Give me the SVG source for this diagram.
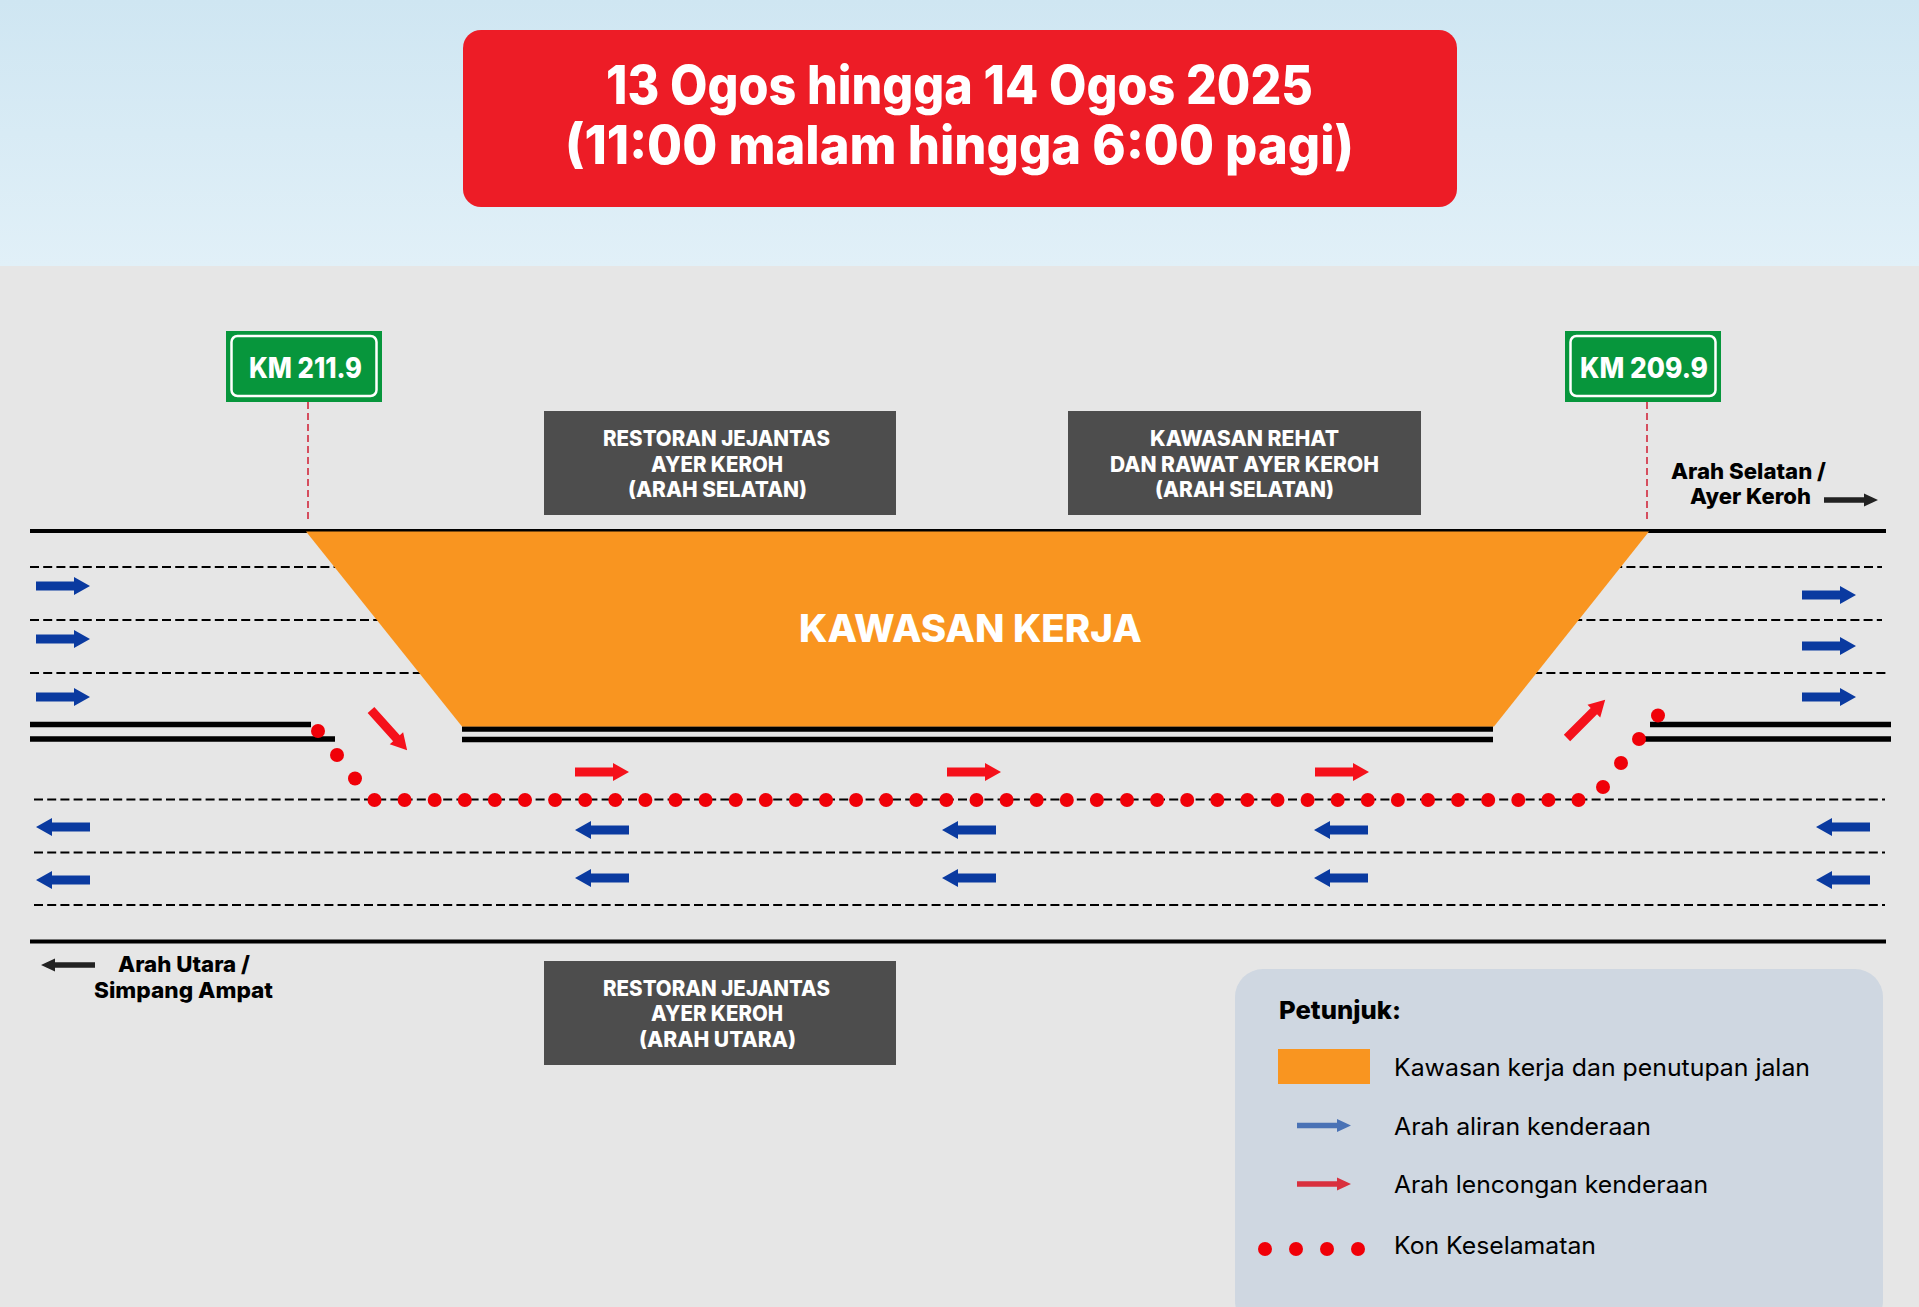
<svg xmlns="http://www.w3.org/2000/svg" xmlns:xlink="http://www.w3.org/1999/xlink" width="1919" height="1307" viewBox="0 0 1919 1307">
<defs>
<linearGradient id="sky" x1="0" y1="0" x2="0" y2="1"><stop offset="0" stop-color="#cfe6f2"/><stop offset="1" stop-color="#e1f0f8"/></linearGradient>
<path id="arr" d="M0-4.500H38V-9L54 0 38 9V4.500H0Z"/>
<path id="thin" d="M0-2.700H40V-6.500L54 0 40 6.500V2.700H0Z"/>
</defs>
<style>
text{font-family:Inter,"Liberation Sans",sans-serif;font-weight:800}
.w{fill:#fff}
.k{fill:#000}
.box{fill:#4d4d4d}
.solid{stroke:#000;stroke-width:4;fill:none}
.thick{stroke:#000;stroke-width:5.500;fill:none}
.dash{stroke:#000;stroke-width:2;stroke-dasharray:9 4.200;fill:none}
.ref{stroke:#d1293d;stroke-width:1.600;stroke-dasharray:7 4;fill:none}
.blue{fill:#0a3aa0}
.red{fill:#f5111b}
.cone{fill:#f00008}
.boxt{font-size:21px}
.lg{font-weight:400;font-size:24px;fill:#000}
</style>
<rect width="1919" height="1307" fill="#e6e6e6"/>
<rect width="1919" height="266" fill="url(#sky)"/>
<g id="title">
<rect x="463" y="30" width="994" height="177" rx="18" fill="#ed1c26"/>
<text class="w" x="606" y="104" font-size="53" textLength="707" lengthAdjust="spacingAndGlyphs">13 Ogos hingga 14 Ogos 2025</text>
<text class="w" x="565" y="164" font-size="53" textLength="789" lengthAdjust="spacingAndGlyphs">(11:00 malam hingga 6:00 pagi)</text>
</g>
<g id="roads">
<path class="dash" d="M30 567H350M30 620H400M30 673H430M1600 567H1882M1560 620H1882M1520 673H1888M34 799.500H1885M34 852.500H1885M34 905H1885"/>
<path class="solid" d="M30 531H1886M30 941.500H1886"/>
<path class="thick" d="M30 724.500H311M30 739H335M462 729H1493M462 739.500H1493M1650 724.500H1891M1643 739H1891"/>
</g>
<g id="work-zone">
<path d="M306 531.500H1649L1494 726.500H462Z" fill="#f99520"/>
<text class="w" x="799" y="642" font-size="38" textLength="343" lengthAdjust="spacingAndGlyphs">KAWASAN KERJA</text>
</g>
<g id="connectors">
<path class="ref" d="M308 402V521M1647 402V521"/>
</g>
<g id="km-211-9">
<rect x="226" y="331" width="156" height="71" fill="#07963c"/>
<rect x="231.500" y="336" width="145" height="60" rx="6" fill="none" stroke="#fff" stroke-width="2.500"/>
<text class="w" x="249" y="378" font-size="28" textLength="113" lengthAdjust="spacingAndGlyphs">KM 211.9</text>
</g>
<g id="km-209-9">
<rect x="1565" y="331" width="156" height="71" fill="#07963c"/>
<rect x="1570.500" y="336" width="145" height="60" rx="6" fill="none" stroke="#fff" stroke-width="2.500"/>
<text class="w" x="1580" y="378" font-size="28" textLength="128" lengthAdjust="spacingAndGlyphs">KM 209.9</text>
</g>
<g id="restoran-selatan">
<rect class="box" x="544" y="411" width="352" height="104"/>
<text class="w boxt" x="603" y="446" textLength="227" lengthAdjust="spacingAndGlyphs">RESTORAN JEJANTAS</text>
<text class="w boxt" x="651" y="472" textLength="132" lengthAdjust="spacingAndGlyphs">AYER KEROH</text>
<text class="w boxt" x="628" y="497" textLength="179" lengthAdjust="spacingAndGlyphs">(ARAH SELATAN)</text>
</g>
<g id="kawasan-rehat">
<rect class="box" x="1068" y="411" width="353" height="104"/>
<text class="w boxt" x="1150" y="446" textLength="189" lengthAdjust="spacingAndGlyphs">KAWASAN REHAT</text>
<text class="w boxt" x="1110" y="472" textLength="269" lengthAdjust="spacingAndGlyphs">DAN RAWAT AYER KEROH</text>
<text class="w boxt" x="1155" y="497" textLength="179" lengthAdjust="spacingAndGlyphs">(ARAH SELATAN)</text>
</g>
<g id="restoran-utara">
<rect class="box" x="544" y="961" width="352" height="104"/>
<text class="w boxt" x="603" y="996" textLength="227" lengthAdjust="spacingAndGlyphs">RESTORAN JEJANTAS</text>
<text class="w boxt" x="651" y="1021" textLength="132" lengthAdjust="spacingAndGlyphs">AYER KEROH</text>
<text class="w boxt" x="639" y="1047" textLength="157" lengthAdjust="spacingAndGlyphs">(ARAH UTARA)</text>
</g>
<g id="direction-selatan">
<text class="k" x="1671" y="479" font-size="22" textLength="155" lengthAdjust="spacingAndGlyphs">Arah Selatan /</text>
<text class="k" x="1690" y="504" font-size="22" textLength="121" lengthAdjust="spacingAndGlyphs">Ayer Keroh</text>
<use href="#thin" x="1824" y="500" fill="#222"/>
</g>
<g id="direction-utara">
<text class="k" x="118" y="972" font-size="22" textLength="132" lengthAdjust="spacingAndGlyphs">Arah Utara /</text>
<text class="k" x="94" y="998" font-size="22" textLength="179" lengthAdjust="spacingAndGlyphs">Simpang Ampat</text>
<use href="#thin" transform="translate(95 965) scale(-1 1)" fill="#222"/>
</g>
<g id="traffic-arrows" class="blue">
<use href="#arr" x="36" y="586"/><use href="#arr" x="36" y="639"/><use href="#arr" x="36" y="697"/>
<use href="#arr" x="1802" y="595"/><use href="#arr" x="1802" y="646"/><use href="#arr" x="1802" y="697"/>
<use href="#arr" transform="translate(90 827) scale(-1 1)"/><use href="#arr" transform="translate(90 880) scale(-1 1)"/>
<use href="#arr" transform="translate(629 830) scale(-1 1)"/><use href="#arr" transform="translate(629 878) scale(-1 1)"/>
<use href="#arr" transform="translate(996 830) scale(-1 1)"/><use href="#arr" transform="translate(996 878) scale(-1 1)"/>
<use href="#arr" transform="translate(1368 830) scale(-1 1)"/><use href="#arr" transform="translate(1368 878) scale(-1 1)"/>
<use href="#arr" transform="translate(1870 827) scale(-1 1)"/><use href="#arr" transform="translate(1870 880) scale(-1 1)"/>
</g>
<g id="diversion-arrows" class="red">
<use href="#arr" x="575" y="772"/><use href="#arr" x="947" y="772"/><use href="#arr" x="1315" y="772"/>
<use href="#arr" transform="translate(371 710) rotate(48)"/>
<use href="#arr" transform="translate(1567 738) rotate(-45)"/>
</g>
<g id="cones" class="cone">
<circle cx="318" cy="731" r="7"/><circle cx="337" cy="755" r="7"/><circle cx="355" cy="778.500" r="7"/>
<circle cx="374.500" cy="800" r="7"/><circle cx="404.600" cy="800" r="7"/><circle cx="434.700" cy="800" r="7"/><circle cx="464.800" cy="800" r="7"/><circle cx="494.900" cy="800" r="7"/><circle cx="525" cy="800" r="7"/><circle cx="555.100" cy="800" r="7"/><circle cx="585.200" cy="800" r="7"/><circle cx="615.300" cy="800" r="7"/><circle cx="645.400" cy="800" r="7"/><circle cx="675.500" cy="800" r="7"/><circle cx="705.600" cy="800" r="7"/><circle cx="735.700" cy="800" r="7"/><circle cx="765.800" cy="800" r="7"/><circle cx="795.900" cy="800" r="7"/><circle cx="826" cy="800" r="7"/><circle cx="856.100" cy="800" r="7"/><circle cx="886.200" cy="800" r="7"/><circle cx="916.300" cy="800" r="7"/><circle cx="946.400" cy="800" r="7"/><circle cx="976.500" cy="800" r="7"/><circle cx="1006.600" cy="800" r="7"/><circle cx="1036.700" cy="800" r="7"/><circle cx="1066.800" cy="800" r="7"/><circle cx="1096.900" cy="800" r="7"/><circle cx="1127" cy="800" r="7"/><circle cx="1157.100" cy="800" r="7"/><circle cx="1187.200" cy="800" r="7"/><circle cx="1217.300" cy="800" r="7"/><circle cx="1247.400" cy="800" r="7"/><circle cx="1277.500" cy="800" r="7"/><circle cx="1307.600" cy="800" r="7"/><circle cx="1337.700" cy="800" r="7"/><circle cx="1367.800" cy="800" r="7"/><circle cx="1397.900" cy="800" r="7"/><circle cx="1428" cy="800" r="7"/><circle cx="1458.100" cy="800" r="7"/><circle cx="1488.200" cy="800" r="7"/><circle cx="1518.300" cy="800" r="7"/><circle cx="1548.400" cy="800" r="7"/><circle cx="1578.500" cy="800" r="7"/>
<circle cx="1603" cy="787" r="7"/><circle cx="1621" cy="763" r="7"/><circle cx="1639" cy="739" r="7"/><circle cx="1658" cy="715.500" r="7"/>
</g>
<g id="legend">
<rect x="1235" y="969" width="648" height="360" rx="28" fill="#cfd7e1"/>
<text class="k" x="1279" y="1019" font-size="25" textLength="122" lengthAdjust="spacingAndGlyphs">Petunjuk:</text>
<rect x="1278" y="1049" width="92" height="35" fill="#f99520"/>
<text class="lg" x="1394" y="1076" textLength="416" lengthAdjust="spacingAndGlyphs">Kawasan kerja dan penutupan jalan</text>
<use href="#thin" x="1297" y="1125.500" fill="#4a72b5"/>
<text class="lg" x="1394" y="1135" textLength="257" lengthAdjust="spacingAndGlyphs">Arah aliran kenderaan</text>
<use href="#thin" x="1297" y="1184" fill="#d9303e"/>
<text class="lg" x="1394" y="1193" textLength="314" lengthAdjust="spacingAndGlyphs">Arah lencongan kenderaan</text>
<text class="lg" x="1394" y="1254" textLength="202" lengthAdjust="spacingAndGlyphs">Kon Keselamatan</text>
<g class="cone"><circle cx="1265" cy="1249" r="7"/><circle cx="1296" cy="1249" r="7"/><circle cx="1327" cy="1249" r="7"/><circle cx="1358" cy="1249" r="7"/></g>
</g>
</svg>
